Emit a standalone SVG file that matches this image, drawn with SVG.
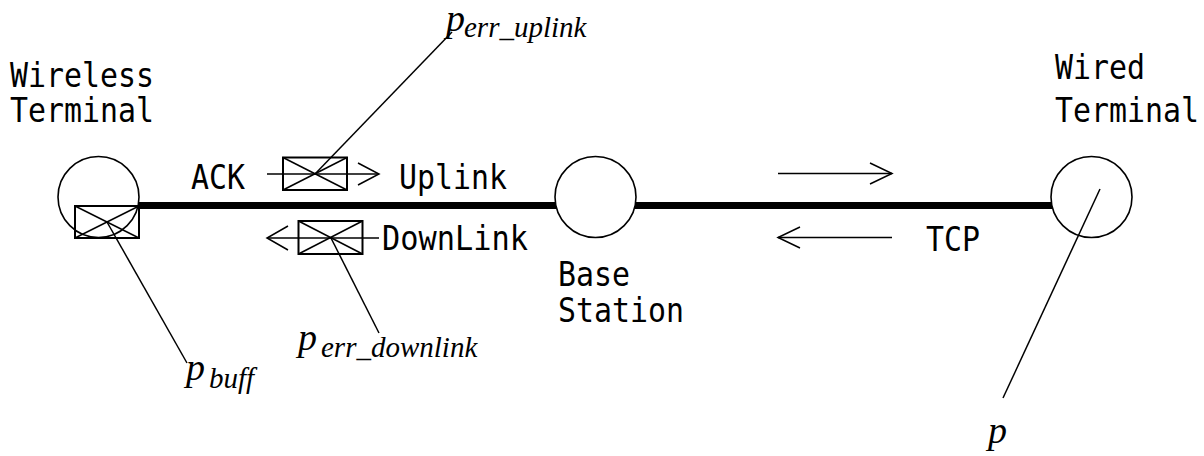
<svg xmlns="http://www.w3.org/2000/svg" width="1204" height="456" viewBox="0 0 1204 456">
  <style>
    .lbl { font-family: "DejaVu Sans Mono", "Liberation Mono", monospace; font-size: 34px; fill: #000; }
    .math { font-family: "Liberation Serif", "Times New Roman", serif; font-style: italic; fill: #000; }
    .mp { font-size: 38px; }
    .ms { font-size: 29px; }
    .node { fill: none; stroke: #000; stroke-width: 1.6; }
    .link { stroke: #000; stroke-width: 7; fill: none; }
    .thin { stroke: #000; stroke-width: 1.5; fill: none; }
    .box { fill: none; stroke: #000; stroke-width: 2; }
    .x { stroke: #000; stroke-width: 1.5; }
  </style>
  <rect width="1204" height="456" fill="#fff"/>

  <!-- wired links -->
  <g id="connectors">
    <line class="link" x1="139" y1="205.5" x2="556" y2="205.5"/>
    <line class="link" x1="635" y1="205.5" x2="1052" y2="205.5"/>
    <!-- uplink direction -->
    <line class="thin" x1="267" y1="174" x2="379" y2="174"/>
    <polyline class="thin" points="358,163 379,174 358,185"/>
    <!-- downlink direction -->
    <line class="thin" x1="267" y1="238" x2="379" y2="238"/>
    <polyline class="thin" points="288,226 267,238 288,250"/>
    <!-- TCP directions -->
    <line class="thin" x1="778" y1="173.5" x2="892" y2="173.5"/>
    <polyline class="thin" points="870,163 892,173.5 870,184"/>
    <line class="thin" x1="778" y1="237.5" x2="892" y2="237.5"/>
    <polyline class="thin" points="800,227 778,237.5 800,248"/>
    <!-- probability leaders -->
    <line class="thin" x1="315" y1="174" x2="452" y2="32"/>
    <line class="thin" x1="331" y1="238" x2="379" y2="333"/>
    <line class="thin" x1="107" y1="222" x2="187" y2="363"/>
    <line class="thin" x1="1100" y1="189" x2="1003" y2="398"/>
  </g>

  <g id="wireless-terminal">
    <circle class="node" cx="98.5" cy="197" r="40.5"/>
    <rect class="box" x="75" y="206" width="64" height="32"/>
    <line class="x" x1="75" y1="206" x2="139" y2="238"/>
    <line class="x" x1="75" y1="238" x2="139" y2="206"/>
    <text class="lbl" x="10" y="87" textLength="144" lengthAdjust="spacingAndGlyphs">Wireless</text>
    <text class="lbl" x="10" y="122" textLength="144" lengthAdjust="spacingAndGlyphs">Terminal</text>
  </g>

  <g id="uplink-queue">
    <rect class="box" x="283" y="157.5" width="64" height="32.5"/>
    <line class="x" x1="283" y1="157.5" x2="347" y2="190"/>
    <line class="x" x1="283" y1="190" x2="347" y2="157.5"/>
    <text class="lbl" x="191" y="189" textLength="54" lengthAdjust="spacingAndGlyphs">ACK</text>
    <text class="lbl" x="399" y="189" textLength="108" lengthAdjust="spacingAndGlyphs">Uplink</text>
  </g>

  <g id="downlink-queue">
    <rect class="box" x="298.5" y="221" width="64" height="33"/>
    <line class="x" x1="298.5" y1="221" x2="362.5" y2="254"/>
    <line class="x" x1="298.5" y1="254" x2="362.5" y2="221"/>
    <text class="lbl" x="382" y="250" textLength="146" lengthAdjust="spacingAndGlyphs">DownLink</text>
  </g>

  <g id="base-station">
    <circle class="node" cx="595.5" cy="197" r="40.5"/>
    <text class="lbl" x="558" y="286" textLength="72" lengthAdjust="spacingAndGlyphs">Base</text>
    <text class="lbl" x="558" y="322" textLength="126" lengthAdjust="spacingAndGlyphs">Station</text>
  </g>

  <g id="tcp-label">
    <text class="lbl" x="926" y="251" textLength="54" lengthAdjust="spacingAndGlyphs">TCP</text>
  </g>

  <g id="wired-terminal">
    <circle class="node" cx="1091.5" cy="197" r="40.5"/>
    <text class="lbl" x="1055" y="79" textLength="90" lengthAdjust="spacingAndGlyphs">Wired</text>
    <text class="lbl" x="1055" y="122" textLength="144" lengthAdjust="spacingAndGlyphs">Terminal</text>
  </g>

  <g id="prob-err-uplink">
    <text class="math mp" x="446" y="31">p</text>
    <text class="math ms" x="464" y="37">err_uplink</text>
  </g>
  <g id="prob-err-downlink">
    <text class="math mp" x="298" y="350">p</text>
    <text class="math ms" x="321" y="357">err_downlink</text>
  </g>
  <g id="prob-buff">
    <text class="math mp" x="186" y="380">p</text>
    <text class="math ms" x="209" y="388">buff</text>
  </g>
  <g id="prob-wired">
    <text class="math mp" x="988" y="443">p</text>
  </g>
</svg>
